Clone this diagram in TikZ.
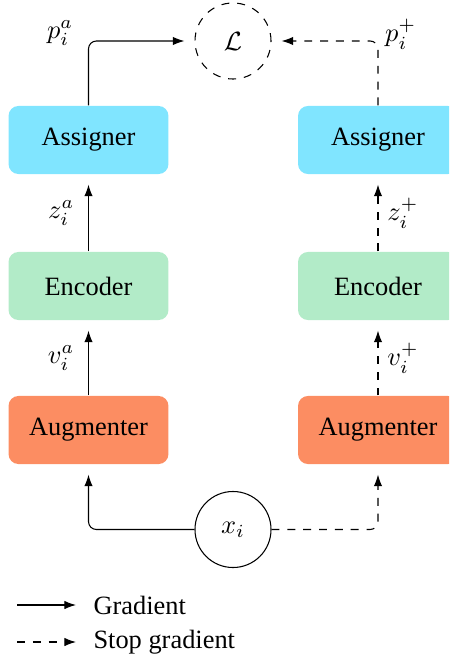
\documentclass[tikz,border=0pt]{standalone}
\usepackage{fontspec}
\setmainfont{Liberation Serif}
\usetikzlibrary{arrows.meta}
\definecolor{asgcol}{RGB}{128,229,255}
\definecolor{enccol}{RGB}{178,235,200}
\definecolor{augcol}{RGB}{252,141,98}
\begin{document}
\begin{tikzpicture}[x=0.3788pt,y=-0.3788pt,
  font=\fontsize{10}{12}\selectfont,
  line width=0.4pt,
  boxstyle/.style={rounded corners=3.8pt, minimum width=60.6pt, minimum height=25.8pt, inner sep=0pt},
  grad/.style={-{Latex[length=4.4pt,width=3.2pt]}, rounded corners=3pt},
  stopgrad/.style={grad, dash pattern=on 3pt off 3pt},
  circ/.style={circle, draw, minimum size=28.8pt, inner sep=0pt}]
\clip (0,0) rectangle (449,657);

\node[boxstyle, fill=asgcol] (asg1) at (88.5,140) {Assigner};
\node[boxstyle, fill=enccol] (enc1) at (88.5,286) {Encoder};
\node[boxstyle, fill=augcol] (aug1) at (88.5,430) {Augmenter};
\node[boxstyle, fill=asgcol] (asg2) at (378,140) {Assigner};
\node[boxstyle, fill=enccol] (enc2) at (378,286) {Encoder};
\node[boxstyle, fill=augcol] (aug2) at (378,430) {Augmenter};

\node[circ, dash pattern=on 3pt off 3pt] (L) at (233,41) {$\mathcal{L}$};
\node[circ] (x) at (233,529.5) {$x_i$};

% left branch (gradient)
\draw[grad, shorten >=3.8pt] (x.west) -| (aug1.south);
\draw[grad, shorten >=3.8pt] (aug1.north) -- node[left, xshift=-1.8pt] {$v_i^a$} (enc1.south);
\draw[grad, shorten >=3.8pt] (enc1.north) -- node[left, xshift=-1.8pt] {$z_i^a$} (asg1.south);
\draw[grad, shorten >=3.8pt] (asg1.north) |- node[pos=0.5, anchor=east, xshift=-2.3pt, yshift=3pt] {$p_i^a$} (L.west);

% right branch (stop gradient)
\draw[stopgrad, shorten >=3.8pt] (x.east) -| (aug2.south);
\draw[stopgrad, shorten >=3.8pt] (aug2.north) -- node[right] {$v_i^+$} (enc2.south);
\draw[stopgrad, shorten >=3.8pt] (enc2.north) -- node[right] {$z_i^+$} (asg2.south);
\draw[stopgrad, shorten >=3.8pt] (asg2.north) |- node[pos=0.5, anchor=west, xshift=-0.8pt, yshift=2.6pt] {$p_i^+$} (L.east);

% legend
\coordinate (g1) at (17,605);
\coordinate (g2) at (76,605);
\coordinate (s1) at (17,642);
\coordinate (s2) at (76,642);
\draw[grad] (g1) -- (g2);
\draw[stopgrad] (s1) -- (s2);
\node[anchor=west, inner sep=0pt] (gt) at (93,605) {Gradient};
\node[anchor=west, inner sep=0pt] (st) at (93,642) {Stop gradient};
\end{tikzpicture}
\end{document}
